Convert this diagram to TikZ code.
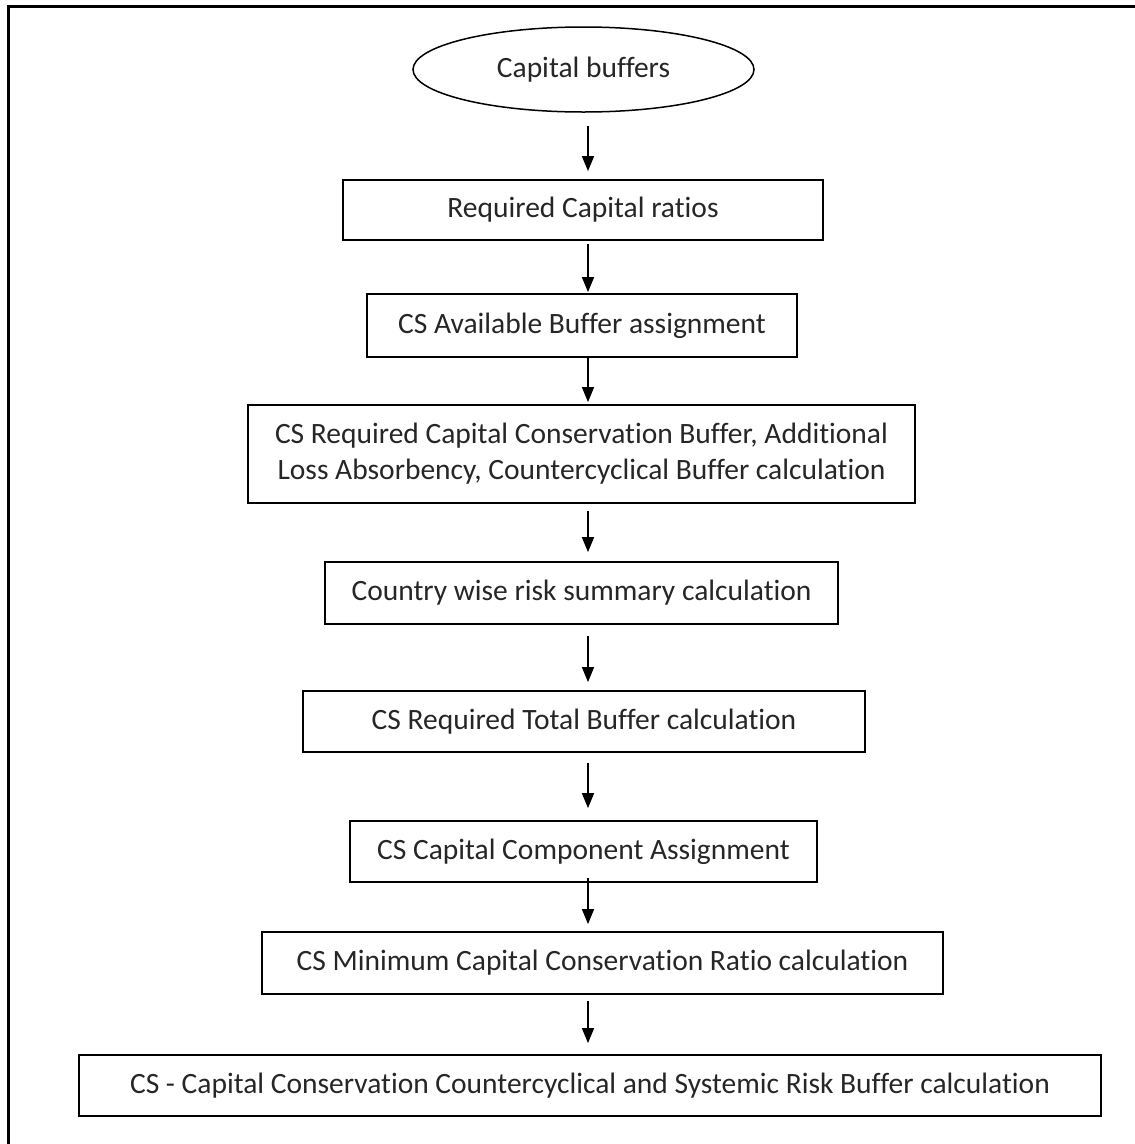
\documentclass[tikz,border=0pt]{standalone}
\usepackage{fontspec}
\setmainfont{Carlito}[Ligatures={NoCommon}]
\usetikzlibrary{arrows.meta,shapes.geometric}
\begin{document}
\begin{tikzpicture}[x=1pt,y=-1pt,
  txt/.style={font=\fontsize{29.5}{36}\selectfont, text=black!85, align=center},
  box/.style={txt, draw, line width=1.8pt, inner sep=0pt},
  oval/.style={txt, ellipse, draw, line width=1.5pt, inner sep=0pt},
  arr/.style={line width=1.5pt, -{Triangle[length=15pt,width=12pt]}}]
\useasboundingbox (0,0) rectangle (1135,1144);
\draw[line width=3pt] (8.5,1160) |- (1150,6.5);
\coordinate (col) at (588,0);
\node[oval, minimum width=341, minimum height=85] (e) at (583.5,69.5) {Capital buffers};
\node[box, minimum width=480, minimum height=60] (b1) at (583,210) {Required Capital ratios};
\node[box, minimum width=430, minimum height=63] (b2) at (582,325.5) {CS Available Buffer assignment};
\node[box, minimum width=667, minimum height=98] (b3) at (581.5,454) {CS Required Capital Conservation Buffer, Additional\\Loss Absorbency, Countercyclical Buffer calculation};
\node[box, minimum width=513, minimum height=62] (b4) at (581.5,593) {Country wise risk summary calculation};
\node[box, minimum width=562, minimum height=61] (b5) at (584,721.5) {CS Required Total Buffer calculation};
\node[box, minimum width=467, minimum height=61] (b6) at (583.5,851.5) {CS Capital Component Assignment};
\node[box, minimum width=681, minimum height=62] (b7) at (602.5,963) {CS Minimum Capital Conservation Ratio calculation};
\node[box, minimum width=1022, minimum height=61] (b8) at (590,1085.5) {CS - Capital Conservation Countercyclical and Systemic Risk Buffer calculation};
\draw[arr, shorten <=13pt, shorten >=8pt] (e.south -| col) -- (b1.north -| col);
\draw[arr, shorten <=3pt, shorten >=1pt] (b1.south -| col) -- (b2.north -| col);
\draw[arr, shorten <=0pt, shorten >=2pt] (b2.south -| col) -- (b3.north -| col);
\draw[arr, shorten <=7pt, shorten >=9pt] (b3.south -| col) -- (b4.north -| col);
\draw[arr, shorten <=11pt, shorten >=8pt] (b4.south -| col) -- (b5.north -| col);
\draw[arr, shorten <=10pt, shorten >=12pt] (b5.south -| col) -- (b6.north -| col);
\draw[arr, shorten <=-5pt, shorten >=7pt] (b6.south -| col) -- (b7.north -| col);
\draw[arr, shorten <=6pt, shorten >=11pt] (b7.south -| col) -- (b8.north -| col);
\end{tikzpicture}
\end{document}
